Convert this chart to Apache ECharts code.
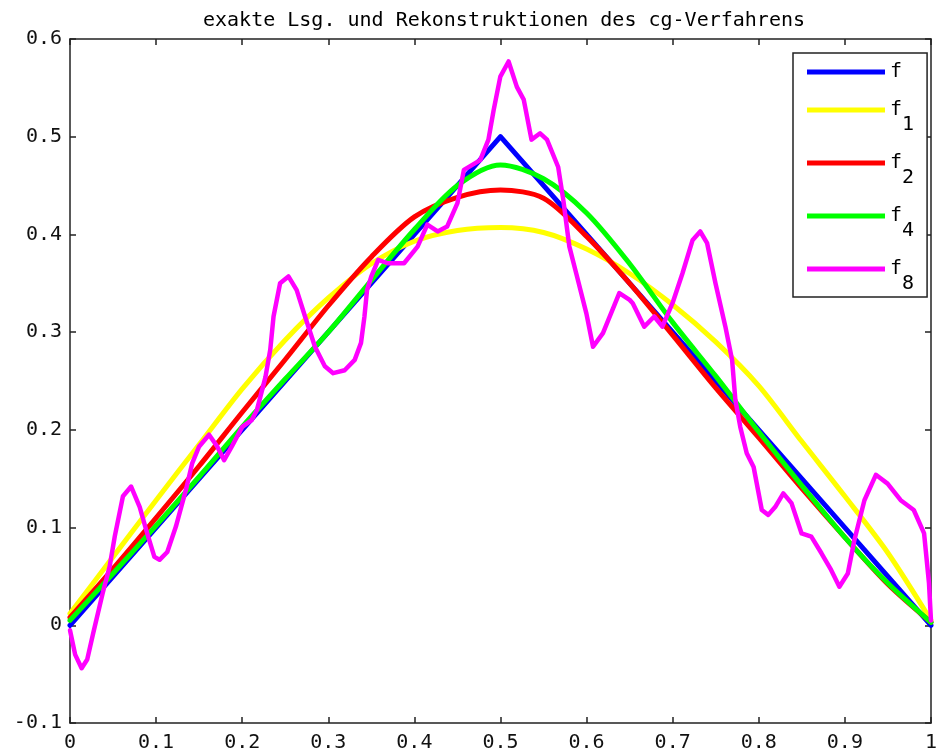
<!DOCTYPE html>
<html>
<head>
<meta charset="utf-8">
<script src="https://cdn.jsdelivr.net/npm/echarts@6/dist/echarts.min.js"></script>
<style>html,body{margin:0;padding:0;background:#fff;}#chart{width:940px;height:755px;}</style>
</head>
<body>
<div id="chart"></div>
<script>
// ---- data ----
const titleText = 'exakte Lsg. und Rekonstruktionen des cg-Verfahrens';
const seriesNames = ['f', 'f1', 'f2', 'f4', 'f8'];
const seriesColors = ['#0000ff', '#ffff00', '#ff0000', '#00ff00', '#ff00ff'];

// exact solution
const fX = [0, 0.5, 1];
const fY = [0, 0.5, 0];

// common grid for smooth reconstructions
const gridX = [0, 0.05, 0.1, 0.15, 0.2, 0.25, 0.3, 0.35, 0.4, 0.45, 0.5, 0.55, 0.6, 0.65, 0.7, 0.75, 0.8, 0.85, 0.9, 0.95, 1];
const f1Y = [0.012, 0.07, 0.128, 0.185, 0.242, 0.292, 0.335, 0.37, 0.393, 0.404, 0.407, 0.402, 0.385, 0.36, 0.328, 0.29, 0.245, 0.188, 0.132, 0.074, 0.005];
const f2Y = [0.008, 0.058, 0.11, 0.163, 0.218, 0.272, 0.327, 0.377, 0.418, 0.438, 0.4455, 0.437, 0.398, 0.35, 0.297, 0.243, 0.192, 0.14, 0.09, 0.042, 0.003];
const f4Y = [0.005, 0.053, 0.102, 0.152, 0.203, 0.252, 0.3, 0.353, 0.405, 0.45, 0.471, 0.457, 0.422, 0.37, 0.31, 0.255, 0.198, 0.143, 0.09, 0.043, 0.003];

// 8-step reconstruction (oscillating)
const f8X = [0, 0.006, 0.0135, 0.02, 0.027, 0.038, 0.046, 0.052, 0.0615, 0.071, 0.081, 0.0885, 0.098, 0.104, 0.113, 0.123, 0.1346, 0.142, 0.15, 0.1615, 0.171, 0.179, 0.188, 0.2, 0.211, 0.217, 0.227, 0.2326, 0.2364, 0.244, 0.2537, 0.2633, 0.273, 0.2845, 0.296, 0.3057, 0.319, 0.3307, 0.338, 0.342, 0.345, 0.35, 0.358, 0.369, 0.388, 0.4037, 0.415, 0.427, 0.438, 0.45, 0.4575, 0.4765, 0.486, 0.492, 0.4998, 0.5094, 0.519, 0.527, 0.536, 0.546, 0.554, 0.567, 0.573, 0.58, 0.588, 0.5998, 0.6075, 0.619, 0.638, 0.65, 0.6536, 0.667, 0.6786, 0.688, 0.6998, 0.7113, 0.723, 0.732, 0.74, 0.7497, 0.7612, 0.769, 0.7728, 0.7785, 0.786, 0.794, 0.8035, 0.811, 0.819, 0.8285, 0.838, 0.8497, 0.861, 0.8728, 0.884, 0.8936, 0.9034, 0.911, 0.9227, 0.936, 0.9496, 0.9648, 0.98, 0.992, 0.9977, 1];
const f8Y = [-0.005, -0.03, -0.044, -0.035, -0.008, 0.033, 0.06, 0.091, 0.132, 0.142, 0.121, 0.0975, 0.07, 0.067, 0.075, 0.101, 0.1385, 0.166, 0.183, 0.195, 0.183, 0.169, 0.183, 0.203, 0.21, 0.22, 0.254, 0.282, 0.316, 0.35, 0.357, 0.343, 0.316, 0.285, 0.265, 0.258, 0.261, 0.2716, 0.289, 0.316, 0.343, 0.357, 0.374, 0.3705, 0.3705, 0.3875, 0.41, 0.403, 0.408, 0.432, 0.466, 0.476, 0.497, 0.527, 0.5615, 0.577, 0.551, 0.538, 0.497, 0.5035, 0.497, 0.469, 0.435, 0.3875, 0.36, 0.319, 0.285, 0.299, 0.34, 0.333, 0.3296, 0.3056, 0.316, 0.3056, 0.3296, 0.36, 0.394, 0.403, 0.391, 0.35, 0.3056, 0.2716, 0.2306, 0.203, 0.176, 0.162, 0.118, 0.113, 0.121, 0.135, 0.125, 0.094, 0.0907, 0.0737, 0.0566, 0.0395, 0.053, 0.087, 0.128, 0.154, 0.145, 0.128, 0.118, 0.094, 0.043, 0.005];

const xTicks = { min: 0, max: 1, interval: 0.1 };
const yTicks = { min: -0.1, max: 0.6, interval: 0.1 };

// ---- build ----
function zip(xs, ys) { return xs.map((x, i) => [x, ys[i]]); }
const seriesData = [zip(fX, fY), zip(gridX, f1Y), zip(gridX, f2Y), zip(gridX, f4Y), zip(f8X, f8Y)];

const FONT = 'DejaVu Sans Mono';
const axisLineStyle = { color: '#222', width: 1.5 };

const chart = echarts.init(document.getElementById('chart'), null, { renderer: 'canvas' });
const subs = { f: '', f1: '1', f2: '2', f4: '4', f8: '8' };

chart.setOption({
  backgroundColor: '#fff',
  animation: false,
  title: {
    text: titleText,
    left: 499, top: 6, textAlign: 'center',
    textStyle: { fontFamily: FONT, fontSize: 20, fontWeight: 'normal', color: '#000' }
  },
  grid: { left: 70, right: 3, top: 39, bottom: 32, containLabel: false },
  legend: {
    data: seriesNames,
    orient: 'vertical',
    left: 793, top: 53,
    padding: [9, 13, 3, 14],
    itemGap: 18,
    itemWidth: 78, itemHeight: 5,
    icon: 'rect',
    selectedMode: false,
    borderColor: '#222', borderWidth: 1.5,
    backgroundColor: '#fff',
    formatter: function (name) {
      return subs[name] ? '{m|f}{s|' + subs[name] + '}' : '{a|f}';
    },
    textStyle: {
      fontFamily: FONT, fontSize: 20, color: '#000',
      rich: {
        a: { fontFamily: FONT, fontSize: 20, lineHeight: 32, color: '#000' },
        m: { fontFamily: FONT, fontSize: 20, lineHeight: 20, verticalAlign: 'middle', color: '#000' },
        s: { fontFamily: FONT, fontSize: 20, lineHeight: 50, verticalAlign: 'bottom', color: '#000' }
      }
    }
  },
  xAxis: [
    {
      type: 'value', position: 'bottom', min: xTicks.min, max: xTicks.max, interval: xTicks.interval,
      axisLine: { show: true, onZero: false, lineStyle: axisLineStyle },
      axisTick: { show: true, inside: true, length: 6, lineStyle: axisLineStyle },
      axisLabel: { fontFamily: FONT, fontSize: 20, color: '#111', margin: 10 },
      splitLine: { show: false }
    },
    {
      type: 'value', position: 'top', min: xTicks.min, max: xTicks.max, interval: xTicks.interval,
      axisLine: { show: true, onZero: false, lineStyle: axisLineStyle },
      axisTick: { show: true, inside: true, length: 6, lineStyle: axisLineStyle },
      axisLabel: { show: false },
      splitLine: { show: false }
    }
  ],
  yAxis: [
    {
      type: 'value', position: 'left', min: yTicks.min, max: yTicks.max, interval: yTicks.interval,
      axisLine: { show: true, onZero: false, lineStyle: axisLineStyle },
      axisTick: { show: true, inside: true, length: 6, lineStyle: axisLineStyle },
      axisLabel: { fontFamily: FONT, fontSize: 20, color: '#111', margin: 8 },
      splitLine: { show: false }
    },
    {
      type: 'value', position: 'right', min: yTicks.min, max: yTicks.max, interval: yTicks.interval,
      axisLine: { show: true, onZero: false, lineStyle: axisLineStyle },
      axisTick: { show: true, inside: true, length: 6, lineStyle: axisLineStyle },
      axisLabel: { show: false },
      splitLine: { show: false }
    }
  ],
  series: seriesNames.map((name, i) => ({
    name: name,
    type: 'line',
    xAxisIndex: 0, yAxisIndex: 0,
    data: seriesData[i],
    showSymbol: false,
    symbol: 'none',
    smooth: i > 0 && i < 4 ? 0.3 : false,
    lineStyle: { color: seriesColors[i], width: i === 4 ? 4.5 : 5, join: 'round', cap: 'round' },
    itemStyle: { color: seriesColors[i] },
    z: 2 + i
  }))
});
</script>
</body>
</html>
